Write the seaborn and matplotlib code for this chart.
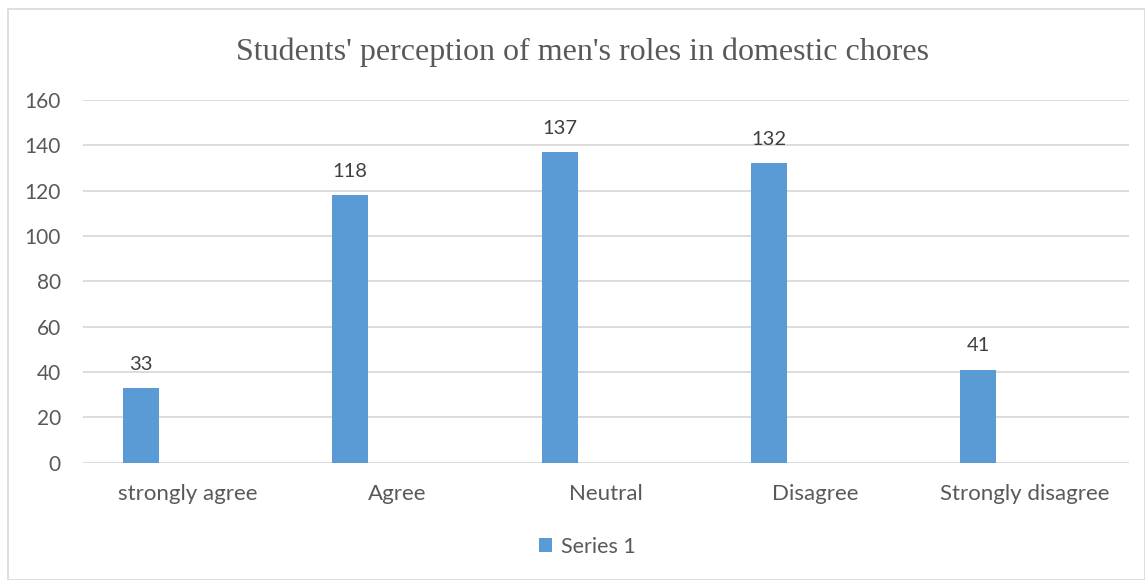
import matplotlib
matplotlib.use("Agg")
import matplotlib.pyplot as plt
import seaborn as sns
import pandas as pd
from matplotlib.patches import Rectangle

categories = ["strongly agree", "Agree", "Neutral", "Disagree", "Strongly disagree"]
values = [33, 118, 137, 132, 41]
series_name = "Series 1"
title = "Students' perception of men's roles in domestic chores"
y_ticks = [0, 20, 40, 60, 80, 100, 120, 140, 160]

bar_color = "#5B9BD5"
text_color = "#595959"
grid_color = "#D9D9D9"

sns.set_theme(style="white")
plt.rcParams["font.family"] = ["Lato", "DejaVu Sans"]

df = pd.DataFrame({"category": categories, "value": values, "series": series_name})

fig = plt.figure(figsize=(11.45, 5.8), dpi=100)
ax = fig.add_axes([83 / 1145, 1 - 462.7 / 580, (1129 - 83) / 1145, (462.7 - 100) / 580])

sns.barplot(data=df, x="category", y="value", hue="series", palette=[bar_color],
            width=0.172, ax=ax, legend=True, saturation=1)

# first of three series slots: shift the bars left of the category centre
shift = -0.222
for bar in ax.patches:
    bar.set_x(bar.get_x() + shift)
    bar.set_linewidth(0)

for bar, v in zip(ax.patches, values):
    ax.annotate(f"{v}", (bar.get_x() + bar.get_width() / 2, v),
                xytext=(0, 11), textcoords="offset points",
                ha="center", va="bottom", fontsize=14.5, color="#404040")

ax.set_ylim(0, 160)
ax.set_xlim(-0.5, len(categories) - 0.5)
ax.set_yticks(y_ticks)
ax.yaxis.grid(True, color=grid_color, linewidth=1.3)
ax.set_axisbelow(True)
for s in ax.spines.values():
    s.set_visible(False)
ax.tick_params(axis="y", length=0, pad=16, labelsize=15, labelcolor=text_color)
ax.tick_params(axis="x", length=0, pad=15, labelsize=16, labelcolor=text_color)
ax.set_xlabel("")
ax.set_ylabel("")

leg = ax.legend(loc="center", bbox_to_anchor=(0.482, (462.7 - 547) / (462.7 - 100)),
                frameon=False, fontsize=15.5, handlelength=0.62, handleheight=0.62,
                handletextpad=0.4, labelcolor=text_color)

fig.text(582 / 1145, 1 - 52 / 580, title, ha="center", va="center",
         fontsize=23, color=text_color, family=["Liberation Serif", "DejaVu Serif"])

fig.patches.append(Rectangle((8 / 1145, 0), 1 - 8 / 1145, 1 - 9 / 580,
                             transform=fig.transFigure, fill=False,
                             edgecolor="#D9D9D9", linewidth=1.2))

fig.savefig("out.png", dpi=100)
